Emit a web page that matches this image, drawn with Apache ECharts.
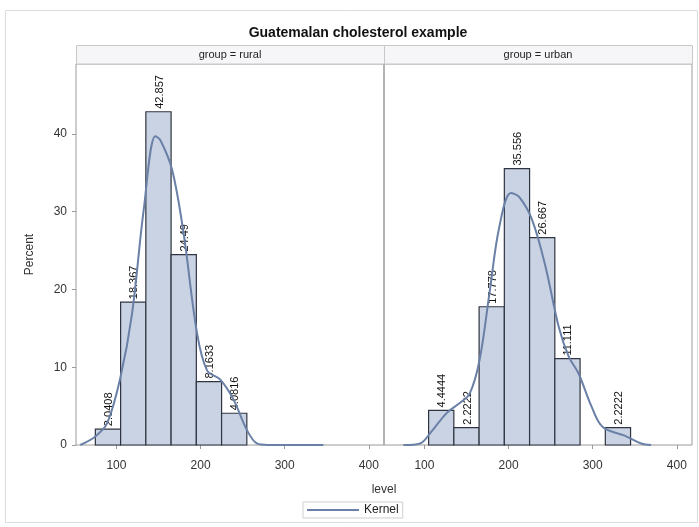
<!DOCTYPE html>
<html>
<head>
<meta charset="utf-8">
<script src="https://cdn.jsdelivr.net/npm/echarts@6/dist/echarts.min.js"></script>
<style>html,body{margin:0;padding:0;background:#fff;}#c{width:699px;height:527px;}</style>
</head>
<body>
<div id="c"></div>
<script>
// ---- data ----
const titleText = 'Guatemalan cholesterol example';
const panelLabels = ['group = rural', 'group = urban'];
const binWidth = 30;
const ruralMid = [90, 120, 150, 180, 210, 240];
const ruralPct = [2.0408, 18.367, 42.857, 24.49, 8.1633, 4.0816];
const urbanMid = [120, 150, 180, 210, 240, 270, 330];
const urbanPct = [4.4444, 2.2222, 17.778, 35.556, 26.667, 11.111, 2.2222];
const ruralKernelX = [57, 75, 89, 105, 118.6, 132.4, 146.3, 152.3, 166.2, 179.9, 195.8, 207.7, 223.5, 239.3, 255.2, 267, 280, 346];
const ruralKernelY = [0, 1.1, 2.8, 8.8, 16.9, 30.2, 39.7, 39.2, 35.4, 27.2, 14.4, 9.6, 8.4, 5.8, 1.9, 0.2, 0, 0];
const urbanKernelX = [75, 95, 106.7, 126.4, 142, 153.8, 165.5, 177.3, 189.1, 202.8, 212.6, 228.2, 244, 259.6, 271.4, 283.2, 298.8, 312, 338, 357.6, 369.4];
const urbanKernelY = [0, 0.2, 1.5, 4.1, 5.4, 6.6, 10.9, 19.5, 28.1, 32.4, 31.9, 28.9, 22.9, 15.2, 11.4, 9.2, 4.9, 2.3, 1.2, 0.2, 0];
const xTicks = [100, 200, 300, 400];
const yTicks = [0, 10, 20, 30, 40];
const xMin = 52, xMax = 418, yMax = 49;

// ---- build ----
const FONT = '"Liberation Sans", Arial, sans-serif';
const barFill = '#c9d3e4';
const barEdge = '#2f3440';
const kernelColor = '#6a80a6';
const frameColor = '#9a9a9a';

function bars(mid, pct) {
  return mid.map((m, i) => [m - binWidth / 2, m + binWidth / 2, pct[i]]);
}
function pts(xs, ys) { return xs.map((x, i) => [x, ys[i]]); }

function renderBar(params, api) {
  const lo = api.value(0), hi = api.value(1), v = api.value(2);
  const p0 = api.coord([lo, 0]);
  const p1 = api.coord([hi, v]);
  const cx = (p0[0] + p1[0]) / 2;
  return {
    type: 'group',
    children: [
      { type: 'rect', shape: { x: p0[0], y: p1[1], width: p1[0] - p0[0], height: p0[1] - p1[1] },
        style: { fill: barFill, stroke: barEdge, lineWidth: 1.2 } },
      { type: 'text', x: cx + 1, y: p1[1] - 3, rotation: Math.PI / 2,
        style: { text: String(v), align: 'left', verticalAlign: 'middle', fontSize: 11, fontFamily: FONT, fill: '#111' } }
    ]
  };
}

const xAxisBase = (gi) => ({
  type: 'value', gridIndex: gi, min: xMin, max: xMax,
  axisLine: { show: false },
  axisTick: { show: true, length: 4, customValues: xTicks, lineStyle: { color: frameColor } },
  axisLabel: { customValues: xTicks, fontSize: 12, fontFamily: FONT, color: '#333', margin: 15 },
  splitLine: { show: false }
});

const option = {
  animation: false,
  backgroundColor: '#fff',
  grid: [
    { left: 76, top: 64, width: 308, height: 381, show: true, borderColor: frameColor, borderWidth: 1, backgroundColor: 'transparent' },
    { left: 384, top: 64, width: 308, height: 381, show: true, borderColor: frameColor, borderWidth: 1, backgroundColor: 'transparent' }
  ],
  xAxis: [xAxisBase(0), xAxisBase(1)],
  yAxis: [
    { type: 'value', gridIndex: 0, min: 0, max: yMax,
      name: 'Percent', nameLocation: 'middle', nameGap: 40, nameRotate: 90,
      nameTextStyle: { fontSize: 12, fontFamily: FONT, color: '#333' },
      axisLine: { show: false },
      axisTick: { show: true, length: 4, customValues: yTicks, lineStyle: { color: frameColor } },
      axisLabel: { customValues: yTicks, fontSize: 12, fontFamily: FONT, color: '#333', margin: 9 },
      splitLine: { show: false } },
    { type: 'value', gridIndex: 1, min: 0, max: yMax,
      axisLine: { show: false }, axisTick: { show: false }, axisLabel: { show: false }, splitLine: { show: false } }
  ],
  legend: {
    data: ['Kernel'], left: 303, top: 502, orient: 'horizontal',
    borderColor: '#cfcfcf', borderWidth: 1, padding: [2, 4, 2, 4],
    itemWidth: 52, itemHeight: 10, itemGap: 4,
    textStyle: { fontSize: 12, fontFamily: FONT, color: '#222' },
    icon: 'path://M0,4 L52,4 L52,6 L0,6 Z'
  },
  series: [
    { type: 'custom', name: 'rural', xAxisIndex: 0, yAxisIndex: 0, renderItem: renderBar, data: bars(ruralMid, ruralPct), z: 2 },
    { type: 'custom', name: 'urban', xAxisIndex: 1, yAxisIndex: 1, renderItem: renderBar, data: bars(urbanMid, urbanPct), z: 2 },
    { type: 'line', name: 'Kernel', xAxisIndex: 0, yAxisIndex: 0, data: pts(ruralKernelX, ruralKernelY), smooth: 0.35,
      symbol: 'none', lineStyle: { color: kernelColor, width: 2 }, itemStyle: { color: kernelColor }, z: 3 },
    { type: 'line', name: 'Kernel', xAxisIndex: 1, yAxisIndex: 1, data: pts(urbanKernelX, urbanKernelY), smooth: 0.35,
      symbol: 'none', lineStyle: { color: kernelColor, width: 2 }, itemStyle: { color: kernelColor }, z: 3 }
  ],
  graphic: [
    { type: 'rect', shape: { x: 5.5, y: 10.5, width: 692, height: 512 }, style: { fill: 'none', stroke: '#dcdcdc', lineWidth: 1 }, z: -10 },
    { type: 'text', x: 358, y: 33, style: { text: titleText, align: 'center', verticalAlign: 'middle', fontSize: 14, fontWeight: 'bold', fontFamily: FONT, fill: '#111' } },
    { type: 'rect', shape: { x: 76.5, y: 45.5, width: 308, height: 18.5 }, style: { fill: '#f6f6f8', stroke: '#c8c8c8', lineWidth: 1 } },
    { type: 'rect', shape: { x: 384.5, y: 45.5, width: 308, height: 18.5 }, style: { fill: '#f6f6f8', stroke: '#c8c8c8', lineWidth: 1 } },
    { type: 'text', x: 230, y: 55, style: { text: panelLabels[0], align: 'center', verticalAlign: 'middle', fontSize: 11, fontFamily: FONT, fill: '#222' } },
    { type: 'text', x: 538, y: 55, style: { text: panelLabels[1], align: 'center', verticalAlign: 'middle', fontSize: 11, fontFamily: FONT, fill: '#222' } },
    { type: 'text', x: 384, y: 490, style: { text: 'level', align: 'center', verticalAlign: 'middle', fontSize: 12, fontFamily: FONT, fill: '#333' } }
  ]
};

const chart = echarts.init(document.getElementById('c'), null, { renderer: 'canvas' });
chart.setOption(option);
</script>
</body>
</html>
